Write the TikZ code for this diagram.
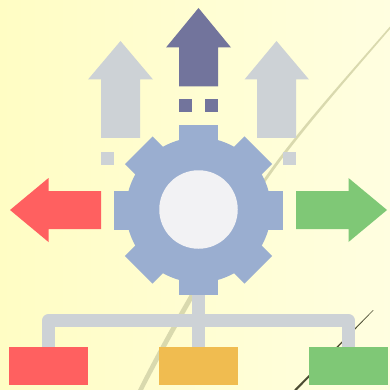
\documentclass[tikz,border=0pt]{standalone}
\definecolor{bgl}{HTML}{FFFDC4}
\definecolor{bgm}{HTML}{FFFDD2}
\definecolor{bgr}{HTML}{FFFEE0}
\definecolor{khaki}{HTML}{D9D9AE}
\definecolor{darkline}{HTML}{4C4C32}
\definecolor{grayc}{HTML}{CDD2D6}
\definecolor{navyc}{HTML}{72749C}
\definecolor{redc}{HTML}{FF6060}
\definecolor{greenc}{HTML}{7FC876}
\definecolor{yellowc}{HTML}{F0BC50}
\definecolor{bluec}{HTML}{9AAED0}
\definecolor{whitec}{HTML}{F2F2F4}
\tikzset{
  conn/.style={draw=grayc,line width=13pt,line join=round},
  leaf/.style={minimum width=78.5pt,minimum height=38.6pt,inner sep=0pt,outer sep=0pt},
}
\begin{document}
\begin{tikzpicture}[x=1pt,y=-1pt]
\useasboundingbox (0,0) rectangle (390,390);
\shade[left color=bgl,middle color=bgm,right color=bgr] (0,0) rectangle (390,390);
% background streaks
\fill[khaki] (390,26.5) .. controls (340,84) and (295,134) .. (264,179) .. controls (224,234) and (173,320) .. (138,390)
  -- (143,390) .. controls (178,322) and (228,237) .. (266,181) .. controls (297,136) and (341,86) .. (390,29) -- cycle;
\fill[darkline] (373,310) -- (373.4,310.4) -- (297,390) -- (294,390) -- cycle;
% named points
\coordinate (gearbottom) at (198.5,290);
\coordinate (bar) at (198.5,320.5);
\node[leaf,fill=redc] (boxred) at (48.7,366) {};
\node[leaf,fill=yellowc] (boxyellow) at (198.5,366) {};
\node[leaf,fill=greenc] (boxgreen) at (348.3,366) {};
% connectors
\draw[conn] (gearbottom) -- (boxyellow.north);
\draw[conn] (boxred.north) |- (bar) -| (boxgreen.north);
% up arrows
\fill[navyc] (198.5,8) -- (231,47.5) -- (218,47.5) -- (218,86.5) -- (179,86.5) -- (179,47.5) -- (166,47.5) -- cycle;
\fill[navyc] (179,99) rectangle (192,112);
\fill[navyc] (205,99) rectangle (218,112);
\fill[grayc] (120.5,41) -- (153,79.5) -- (140,79.5) -- (140,138) -- (101,138) -- (101,79.5) -- (88,79.5) -- cycle;
\fill[grayc] (101,151.5) rectangle (114,164.5);
\fill[grayc] (276.5,41) -- (309,79.5) -- (296,79.5) -- (296,138) -- (257,138) -- (257,79.5) -- (244.5,79.5) -- cycle;
\fill[grayc] (283,151.5) rectangle (296,164.5);
% side arrows
\fill[redc] (10,210) -- (48.5,178) -- (48.5,191) -- (101,191) -- (101,229) -- (48.5,229) -- (48.5,242) -- cycle;
\fill[greenc] (387,210) -- (348.5,178) -- (348.5,191) -- (296,191) -- (296,229) -- (348.5,229) -- (348.5,242) -- cycle;
% gear
\fill[bluec] (198.5,210) circle[radius=72.5];
\foreach \a in {0,45,...,315}{
  \fill[bluec,rotate around={\a:(198.5,210)}] (179,125.5) rectangle (218,170);
}
\node[circle,fill=whitec,minimum size=78.5pt,inner sep=0pt] (hub) at (198.5,209.5) {};
\end{tikzpicture}
\end{document}
